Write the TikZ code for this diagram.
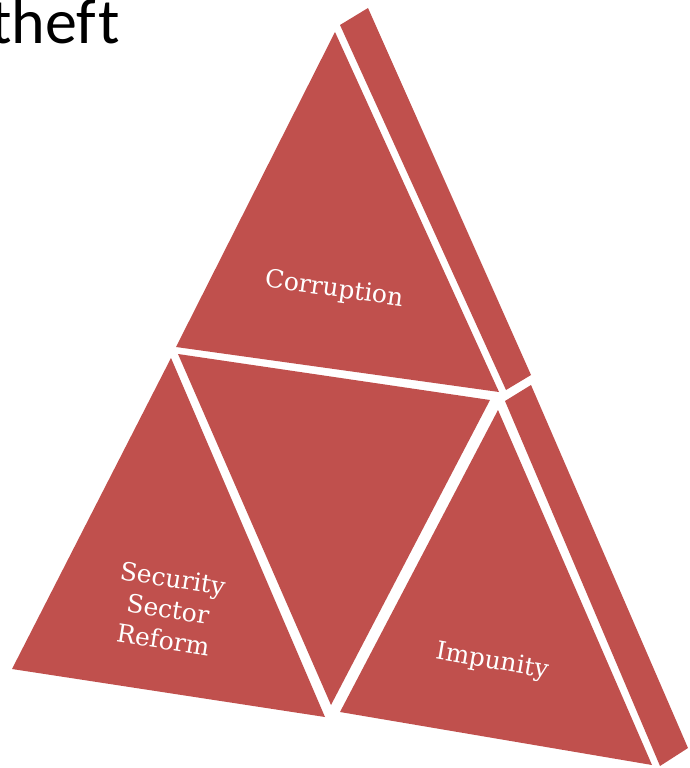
\documentclass[tikz,border=0pt]{standalone}
\usepackage{fontspec}
\setmainfont{DejaVu Serif}
\newfontfamily\titlefont[Ligatures=NoCommon]{Carlito}
\definecolor{brick}{HTML}{C0504D}

\begin{document}
\begin{tikzpicture}[x=1pt,y=-1pt,
  facet/.style={fill=brick},
  facetext/.style={text=white, align=center, inner sep=0pt,
    font=\fontsize{25}{31}\selectfont}]
\useasboundingbox (0,0) rectangle (689,768);

\node[anchor=base east, inner sep=0pt, font=\titlefont\fontsize{64}{66}\selectfont] (theft) at (120,44) {thef\kern2pt t};

% top piece and its edge
\fill[facet] (335,32) -- (499,392) -- (176,347) -- cycle;
\fill[facet] (340,25) -- (368,8) -- (531,375) -- (506,390) -- cycle;

% middle piece
\fill[facet] (178,354) -- (490,400) -- (331,705) -- cycle;

% left piece
\fill[facet] (171,358) -- (325,717) -- (12,669) -- cycle;

% right piece and its edge
\fill[facet] (498,410) -- (652,765) -- (340,712) -- cycle;
\fill[facet] (505,401) -- (531,385) -- (688,748) -- (660,766) -- cycle;

\node[facetext, rotate=-8] (corruption) at (334,290) {Corruption};
\node[facetext, rotate=-9] (ssr) at (168,609) {Security\\Sector\\Reform};
\node[facetext, rotate=-10] (impunity) at (492,662) {Impunity};

\end{tikzpicture}
\end{document}
